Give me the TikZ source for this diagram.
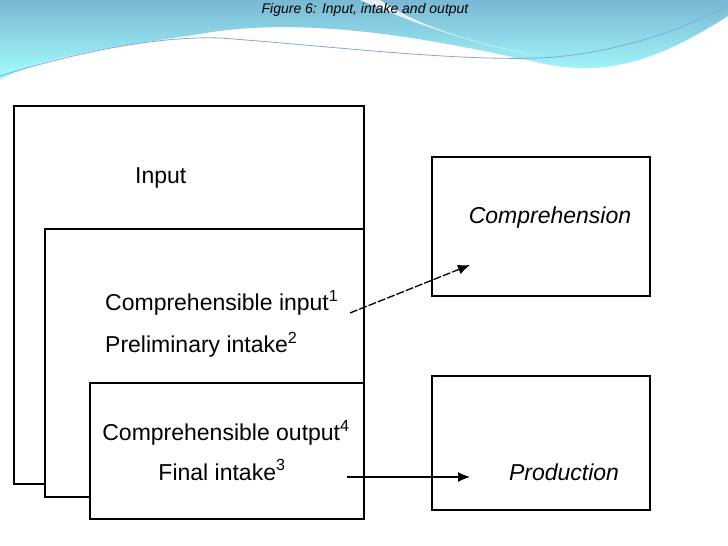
\documentclass[tikz,border=0pt]{standalone}
\usepackage{fontspec}
\usetikzlibrary{arrows.meta}
\setmainfont{Liberation Sans}
\begin{document}
\begin{tikzpicture}[x=1pt,y=1pt,
  box/.style={draw=black,line width=1.4pt},
  lbl/.style={font=\fontsize{23}{27}\selectfont,inner sep=0pt},
  arr/.style={-{Latex[length=12pt,width=10pt]},line width=1.3pt}]
\useasboundingbox (0,0) rectangle (728,546);
\fill[white] (0,0) rectangle (728,546);
% header wave
\shade[top color=blue!30!cyan!50!gray!70,bottom color=cyan!35] (0,546) -- (728,546) -- (728,530)
  .. controls (650,480) and (600,470) .. (540,483)
  .. controls (420,510) and (300,530) .. (200,512)
  .. controls (120,500) and (40,490) .. (0,466) -- cycle;
\fill[white,opacity=0.8] (360,546) .. controls (420,520) and (480,500) .. (540,490) .. controls (460,505) and (410,525) .. (380,546) -- cycle;
\draw[cyan!50!blue!50,line width=0.8pt] (0,470) .. controls (80,495) and (160,510) .. (220,508) .. controls (330,500) and (450,485) .. (540,488) .. controls (620,492) and (690,520) .. (728,540);
\node[font=\fontsize{14}{16}\selectfont\itshape] (title) at (365,536) {Figure 6: Input, intake and output};
% boxes
\draw[box] (14,62) rectangle (364,440);
\node[lbl,anchor=west] (inp) at (135,368) {Input};
\draw[box,fill=white] (45,49) rectangle (364,317);
\node[lbl,anchor=west] (ci) at (105,243) {Comprehensible input\textsuperscript{1}};
\node[lbl,anchor=west] (pi) at (105,201) {Preliminary intake\textsuperscript{2}};
\draw[box,fill=white] (90,27) rectangle (364,163);
\node[lbl] (co) at (226,113) {Comprehensible output\textsuperscript{4}};
\node[lbl] (fi) at (222,76) {Final intake\textsuperscript{3}};
\draw[box] (432,250) rectangle (650,389);
\node[lbl,font=\fontsize{23}{27}\selectfont\itshape] (comp) at (550,328) {Comprehension};
\draw[box] (432,36) rectangle (650,170);
\node[lbl,font=\fontsize{23}{27}\selectfont\itshape] (prod) at (564,74) {Production};
\coordinate (a1) at (350,233);
\coordinate (a1e) at (470,281);
\coordinate (a2) at (347,69);
\coordinate (a2e) at (470,69);
\draw[arr,dash pattern=on 8pt off 2pt] (a1) -- (a1e);
\draw[arr] (a2) -- (a2e);
\end{tikzpicture}
\end{document}
